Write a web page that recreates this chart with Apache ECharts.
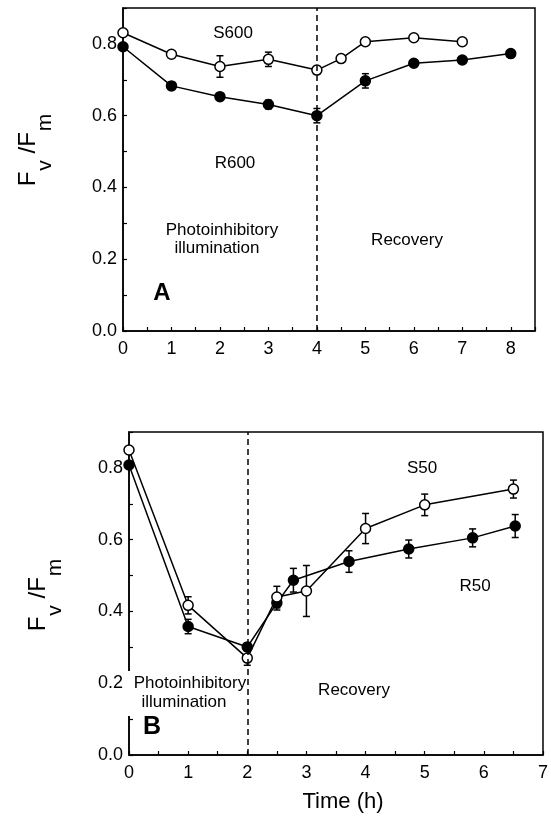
<!DOCTYPE html>
<html>
<head>
<meta charset="utf-8">
<script src="https://cdn.jsdelivr.net/npm/echarts@6/dist/echarts.min.js"></script>
<style>
html,body{margin:0;padding:0;background:#fff;}
#c{width:551px;height:819px;}
</style>
</head>
<body>
<div id="c"></div>
<script>
// ---- Panel A data (600 µmol photoinhibition) ----
var aTimeS600 = [0, 1, 2, 3, 4, 4.5, 5, 6, 7];
var aS600     = [0.831, 0.771, 0.737, 0.757, 0.727, 0.759, 0.806, 0.817, 0.806];
var aS600Err  = [0, 0, 0.03, 0.02, 0.01, 0, 0, 0, 0];
var aTimeR600 = [0, 1, 2, 3, 4, 5, 6, 7, 8];
var aR600     = [0.792, 0.683, 0.653, 0.631, 0.600, 0.697, 0.746, 0.755, 0.773];
var aR600Err  = [0, 0.01, 0, 0.012, 0.02, 0.02, 0.008, 0, 0];
// ---- Panel B data (50) ----
var bTimeS50 = [0, 1, 2, 2.5, 3, 4, 5, 6.5];
var bS50     = [0.850, 0.417, 0.270, 0.440, 0.457, 0.631, 0.697, 0.741];
var bS50Err  = [0, 0.024, 0.02, 0.03, 0.071, 0.042, 0.03, 0.025];
var bTimeR50 = [0, 1, 2, 2.5, 2.78, 3.72, 4.73, 5.81, 6.53];
var bR50     = [0.808, 0.358, 0.301, 0.424, 0.487, 0.539, 0.574, 0.605, 0.638];
var bR50Err  = [0, 0.02, 0.01, 0.02, 0.033, 0.03, 0.025, 0.025, 0.032];
// ---- axes / labels ----
var yTicksShown = [0.0, 0.2, 0.4, 0.6, 0.8];
var aBoundary = 4, bBoundary = 2;
var aXMax = 8.5, bXMax = 7, yMax = 0.9;

var FONT = '"Liberation Sans", Arial, Helvetica, sans-serif';

function pairs(xs, ys){ return xs.map(function(x,i){ return [x, ys[i]]; }); }
function errs(xs, ys, es){
  var out = [];
  xs.forEach(function(x,i){ if (es[i] > 0) out.push([x, ys[i]-es[i], ys[i]+es[i]]); });
  return out;
}
function errRender(params, api){
  var x = api.value(0), lo = api.value(1), hi = api.value(2);
  var p1 = api.coord([x, hi]), p2 = api.coord([x, lo]);
  var w = 3.5, st = {stroke:'#000', lineWidth:1.5};
  return {type:'group', children:[
    {type:'line', shape:{x1:p1[0], y1:p1[1], x2:p2[0], y2:p2[1]}, style:st},
    {type:'line', shape:{x1:p1[0]-w, y1:p1[1], x2:p1[0]+w, y2:p1[1]}, style:st},
    {type:'line', shape:{x1:p2[0]-w, y1:p2[1], x2:p2[0]+w, y2:p2[1]}, style:st}
  ]};
}
function xAxisDef(gi, max){
  return {
    gridIndex: gi, type:'value', min:0, max:max, interval:0.5,
    axisLine:{show:true, onZero:false, lineStyle:{color:'#000', width:1.5}},
    axisTick:{show:true, inside:true, length:4, lineStyle:{color:'#000', width:1.2}},
    splitLine:{show:false},
    axisLabel:{
      color:'#000', fontFamily:FONT, fontSize:18, margin:9,
      formatter:function(v){ return Math.abs(v - Math.round(v)) < 1e-6 ? String(Math.round(v)) : ''; }
    }
  };
}
function yAxisDef(gi){
  return {
    gridIndex: gi, type:'value', min:0, max:yMax, interval:0.1,
    axisLine:{show:true, onZero:false, lineStyle:{color:'#000', width:1.5}},
    axisTick:{show:true, inside:true, length:4, lineStyle:{color:'#000', width:1.2}},
    splitLine:{show:false},
    axisLabel:{
      color:'#000', fontFamily:FONT, fontSize:18, margin:6,
      formatter:function(v){
        for (var i=0;i<yTicksShown.length;i++){ if (Math.abs(v - yTicksShown[i]) < 1e-6) return v.toFixed(1); }
        return '';
      }
    }
  };
}
function lineSeries(xi, data, filled){
  return {
    type:'line', xAxisIndex:xi, yAxisIndex:xi, data:data, z:3,
    symbol:'circle', symbolSize:10, showSymbol:true,
    lineStyle:{color:'#000', width:1.5},
    itemStyle:{color: filled ? '#000' : '#fff', borderColor:'#000', borderWidth:1.5},
    emphasis:{disabled:true}, animation:false
  };
}
function errSeries(xi, data){
  return {type:'custom', xAxisIndex:xi, yAxisIndex:xi, data:data, renderItem:errRender, z:2, animation:false};
}
function boundarySeries(xi, xv){
  return {
    type:'line', xAxisIndex:xi, yAxisIndex:xi, data:[], z:1,
    markLine:{
      silent:true, symbol:'none', label:{show:false},
      lineStyle:{color:'#000', width:1.5, type:[6,4]},
      data:[{xAxis:xv}], animation:false
    }
  };
}
function ylabel(x, y){
  return {
    type:'text', x:x, y:y, rotation:Math.PI/2, z:100,
    style:{
      text:'{f|F}{s|v}{f| /F}{s|m}',
      align:'center', verticalAlign:'middle',
      rich:{
        f:{fontFamily:FONT, fontSize:24, height:24, verticalAlign:'top', fill:'#000'},
        s:{fontFamily:FONT, fontSize:21, height:21, padding:[18,0,0,1], verticalAlign:'bottom', fill:'#000'}
      }
    }
  };
}
function txt(s, x, y, size, bold){
  return {type:'text', x:x, y:y, z:100, style:{text:s, fontFamily:FONT, fontSize:size, fontWeight: bold ? 'bold' : 'normal', fill:'#000', align:'center', verticalAlign:'middle'}};
}

var chart = echarts.init(document.getElementById('c'), null, {renderer:'canvas'});
chart.setOption({
  animation:false,
  backgroundColor:'#fff',
  grid:[
    {left:123, top:8, width:412, height:323, show:true, borderColor:'#000', borderWidth:1.5, backgroundColor:'transparent'},
    {left:129, top:432, width:416, height:323, show:true, borderColor:'#000', borderWidth:1.5, backgroundColor:'transparent'}
  ],
  xAxis:[xAxisDef(0, aXMax), xAxisDef(1, bXMax)],
  yAxis:[yAxisDef(0), yAxisDef(1)],
  series:[
    boundarySeries(0, aBoundary),
    errSeries(0, errs(aTimeS600, aS600, aS600Err)),
    errSeries(0, errs(aTimeR600, aR600, aR600Err)),
    lineSeries(0, pairs(aTimeS600, aS600), false),
    lineSeries(0, pairs(aTimeR600, aR600), true),
    boundarySeries(1, bBoundary),
    errSeries(1, errs(bTimeS50, bS50, bS50Err)),
    errSeries(1, errs(bTimeR50, bR50, bR50Err)),
    lineSeries(1, pairs(bTimeR50, bR50), true),
    lineSeries(1, pairs(bTimeS50, bS50), false)
  ],
  graphic:[
    // gap in panel B's left axis line behind the annotation
    {type:'rect', shape:{x:126, y:671, width:7, height:45}, style:{fill:'#fff'}, z:90},
    ylabel(36, 150),
    ylabel(46, 595),
    txt('S600', 233, 33, 17),
    txt('R600', 235, 163, 17),
    txt('Photoinhibitory', 222, 230, 17),
    txt('illumination', 217, 248, 17),
    txt('Recovery', 407, 240, 17),
    txt('A', 162, 293, 24, true),
    txt('S50', 422, 468, 17),
    txt('R50', 475, 586, 17),
    txt('Photoinhibitory', 190, 683, 17),
    txt('illumination', 184, 702, 17),
    txt('Recovery', 354, 690, 17),
    txt('B', 152, 727, 25, true),
    txt('Time (h)', 343, 802, 22)
  ]
});
</script>
</body>
</html>
